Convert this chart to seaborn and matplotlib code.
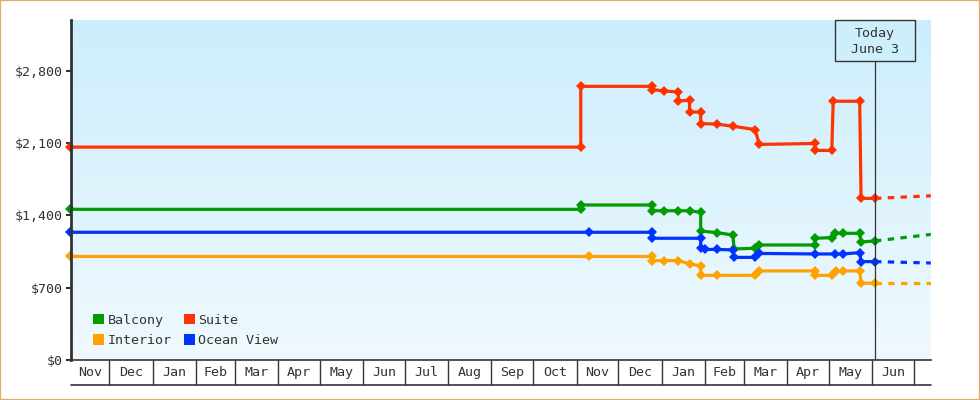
"""
Cruise cabin price history (step-like fare changes) with today marker.
Output: out.png
"""

import matplotlib
matplotlib.use('Agg')
import matplotlib.pyplot as plt
import matplotlib.dates as mdates
from matplotlib.colors import LinearSegmentedColormap
from matplotlib.patches import Patch, Rectangle
from matplotlib.ticker import FuncFormatter, FixedLocator
import numpy as np
import pandas as pd
import seaborn as sns

# --- data ---
suite_dates = ['2021-11-03', '2022-11-04', '2022-11-04', '2022-12-25', '2022-12-25',
               '2023-01-03', '2023-01-13', '2023-01-13', '2023-01-21', '2023-01-21',
               '2023-01-29', '2023-01-29', '2023-02-10', '2023-02-21', '2023-03-09',
               '2023-03-12', '2023-04-21', '2023-04-21', '2023-05-03', '2023-05-04',
               '2023-05-23', '2023-05-24', '2023-06-03']
suite_prices = [2060, 2060, 2648, 2648, 2617,
                2603, 2593, 2507, 2513, 2400,
                2400, 2288, 2282, 2262, 2230,
                2086, 2095, 2028, 2028, 2504,
                2504, 1564, 1564]

balcony_dates = ['2021-11-03', '2022-11-04', '2022-11-04', '2022-12-25', '2022-12-25',
                 '2023-01-03', '2023-01-13', '2023-01-21', '2023-01-29', '2023-01-29',
                 '2023-02-10', '2023-02-21', '2023-02-22', '2023-03-09', '2023-03-12',
                 '2023-04-21', '2023-04-21', '2023-05-03', '2023-05-05', '2023-05-11',
                 '2023-05-23', '2023-05-24', '2023-06-03']
balcony_prices = [1458, 1458, 1500, 1500, 1444,
                  1444, 1444, 1444, 1429, 1248,
                  1232, 1210, 1075, 1081, 1113,
                  1113, 1178, 1184, 1226, 1226,
                  1226, 1142, 1152]

ocean_dates = ['2021-11-03', '2022-11-10', '2022-12-25', '2022-12-25', '2023-01-29',
               '2023-01-29', '2023-02-01', '2023-02-10', '2023-02-21', '2023-02-22',
               '2023-03-09', '2023-03-12', '2023-04-21', '2023-05-05', '2023-05-11',
               '2023-05-23', '2023-05-24', '2023-06-03']
ocean_prices = [1236, 1236, 1236, 1178, 1178,
                1081, 1070, 1070, 1065, 993,
                993, 1031, 1026, 1026, 1026,
                1039, 952, 952]

interior_dates = ['2021-11-03', '2022-11-10', '2022-12-25', '2022-12-25', '2023-01-03',
                  '2023-01-13', '2023-01-21', '2023-01-29', '2023-01-29', '2023-02-10',
                  '2023-03-09', '2023-03-12', '2023-04-21', '2023-04-21', '2023-05-03',
                  '2023-05-06', '2023-05-11', '2023-05-23', '2023-05-24', '2023-06-03']
interior_prices = [1002, 1002, 1002, 962, 962,
                   962, 930, 910, 819, 819,
                   819, 862, 862, 819, 819,
                   862, 862, 862, 743, 743]

# projected prices after today
forecast_cabins = ['Suite', 'Balcony', 'Ocean View', 'Interior']
forecast_start = [1564, 1152, 952, 743]
forecast_end = [1589, 1215, 939, 743]
forecast_dates = ['2023-06-03', '2023-07-13']

TODAY = '2023-06-03'
X_START, X_END = '2021-11-03 12:00', '2023-07-12 22:00'
Y_TICKS = [0, 700, 1400, 2100, 2800]
Y_MAX = 3290

COLORS = {'Balcony': '#009C00', 'Interior': '#FFA200',
          'Suite': '#FF3300', 'Ocean View': '#0033FF'}
INK = '#333333'

sns.set_theme(style='white')
plt.rcParams['font.family'] = ['DejaVu Sans Mono']
plt.rcParams['font.size'] = 9.6


def build_frames():
    parts = []
    for name, d, p in [('Suite', suite_dates, suite_prices),
                       ('Balcony', balcony_dates, balcony_prices),
                       ('Ocean View', ocean_dates, ocean_prices),
                       ('Interior', interior_dates, interior_prices)]:
        parts.append(pd.DataFrame({'date': pd.to_datetime(d), 'price': p, 'cabin': name}))
    hist = pd.concat(parts, ignore_index=True)

    fc = []
    for name, a, b in zip(forecast_cabins, forecast_start, forecast_end):
        fc.append(pd.DataFrame({'date': pd.to_datetime(forecast_dates),
                                'price': [a, b], 'cabin': name}))
    return hist, pd.concat(fc, ignore_index=True)


def create_chart():
    hist, fc = build_frames()

    fig = plt.figure(figsize=(9.8, 4), dpi=100)
    ax_h = 340 / 400
    ax = fig.add_axes([71 / 980, 40 / 400, 859.7 / 980, ax_h])
    px_to_ax = 1 / 340  # one pixel in axes-height units

    sns.lineplot(data=fc, x='date', y='price', hue='cabin', palette=COLORS,
                 estimator=None, sort=False, legend=False, ax=ax,
                 linewidth=2.3, linestyle=(0, (2, 2)), zorder=3)
    sns.lineplot(data=hist, x='date', y='price', hue='cabin', palette=COLORS,
                 estimator=None, sort=False, legend=False, ax=ax,
                 linewidth=2.3, marker='D', markersize=5.2, markeredgewidth=0,
                 clip_on=False, zorder=4)

    # gradient background
    cmap = LinearSegmentedColormap.from_list('bg', ['#F0F9FE', '#CCEEFC'])
    ax.imshow(np.linspace(0, 1, 256).reshape(-1, 1), cmap=cmap, origin='lower',
              extent=[0, 1, 0, 1], transform=ax.transAxes, aspect='auto', zorder=0)

    x0, x1 = pd.Timestamp(X_START), pd.Timestamp(X_END)
    ax.set_xlim(x0, x1)
    ax.set_ylim(0, Y_MAX)
    ax.set_xlabel('')
    ax.set_ylabel('')

    # y axis
    ax.set_yticks(Y_TICKS)
    ax.yaxis.set_major_formatter(FuncFormatter(lambda v, _: f'${v:,.0f}'))
    ax.tick_params(axis='y', length=3.6, width=1.5, color=INK, pad=2,
                   labelsize=9.6, labelcolor=INK, left=True)
    for s in ['top', 'right']:
        ax.spines[s].set_visible(False)
    ax.spines['left'].set_color(INK)
    ax.spines['left'].set_linewidth(2)
    ax.spines['bottom'].set_color(INK)
    ax.spines['bottom'].set_linewidth(1.2)
    ax.spines['left'].set_zorder(6)

    # x axis: month cells
    months = pd.date_range('2021-11-01', '2023-07-01', freq='MS')
    starts = [m for m in months if x0 < m < x1]
    ax.xaxis.set_major_locator(FixedLocator(mdates.date2num(starts)))
    ax.tick_params(axis='x', which='major', length=18, width=1, color=INK,
                   direction='out', labelbottom=False, bottom=True)
    centers, labels = [], []
    for m in months:
        n = m + pd.offsets.MonthBegin(1)
        lo, hi = max(m, x0), min(n, x1)
        if (hi - lo).days >= 20:
            centers.append(mdates.date2num(lo + (hi - lo) / 2))
            labels.append(m.strftime('%b'))
    ax.xaxis.set_minor_locator(FixedLocator(centers))
    ax.set_xticks(centers, labels, minor=True)
    ax.tick_params(axis='x', which='minor', length=0, pad=4.5,
                   labelsize=9.6, labelcolor=INK, labelbottom=True)
    ax.plot([0, 1], [-25 * px_to_ax] * 2, transform=ax.transAxes,
            color=INK, lw=1.2, clip_on=False)

    # today marker
    today = pd.Timestamp(TODAY)
    frac = (mdates.date2num(today) - mdates.date2num(x0)) / (mdates.date2num(x1) - mdates.date2num(x0))
    box_bottom = 1 - 40.7 * px_to_ax
    half_w = 40 / 859.7
    ax.axvline(today, ymin=0, ymax=box_bottom, color=INK, lw=0.9, zorder=5)
    ax.add_patch(Rectangle((frac - half_w, box_bottom), 2 * half_w, 1 - box_bottom,
                           transform=ax.transAxes, facecolor='#CDEFFC', edgecolor=INK,
                           lw=1, zorder=6, clip_on=False))
    ax.text(frac, (1 + box_bottom) / 2 - 1 * px_to_ax, 'Today\nJune 3', transform=ax.transAxes,
            ha='center', va='center', fontsize=9.6, color=INK, linespacing=1.33, zorder=7)

    # legend
    order = ['Balcony', 'Interior', 'Suite', 'Ocean View']
    handles = [Patch(facecolor=COLORS[c], edgecolor='none', label=c) for c in order]
    leg = ax.legend(handles=handles, ncol=2, loc='lower left',
                    bbox_to_anchor=(22 / 859.7, 13 * px_to_ax), frameon=False,
                    fontsize=9.6, handlelength=0.85, handleheight=0.85,
                    handletextpad=0.25, columnspacing=0.9, labelspacing=0.55,
                    borderpad=0, borderaxespad=0)
    for t in leg.get_texts():
        t.set_color(INK)

    # outer frame
    fig.add_artist(Rectangle((0, 0), 1, 1, transform=fig.transFigure, fill=False,
                             edgecolor='#E6A96A', lw=1.6))

    fig.savefig('out.png', dpi=100)
    plt.close(fig)


if __name__ == '__main__':
    create_chart()
